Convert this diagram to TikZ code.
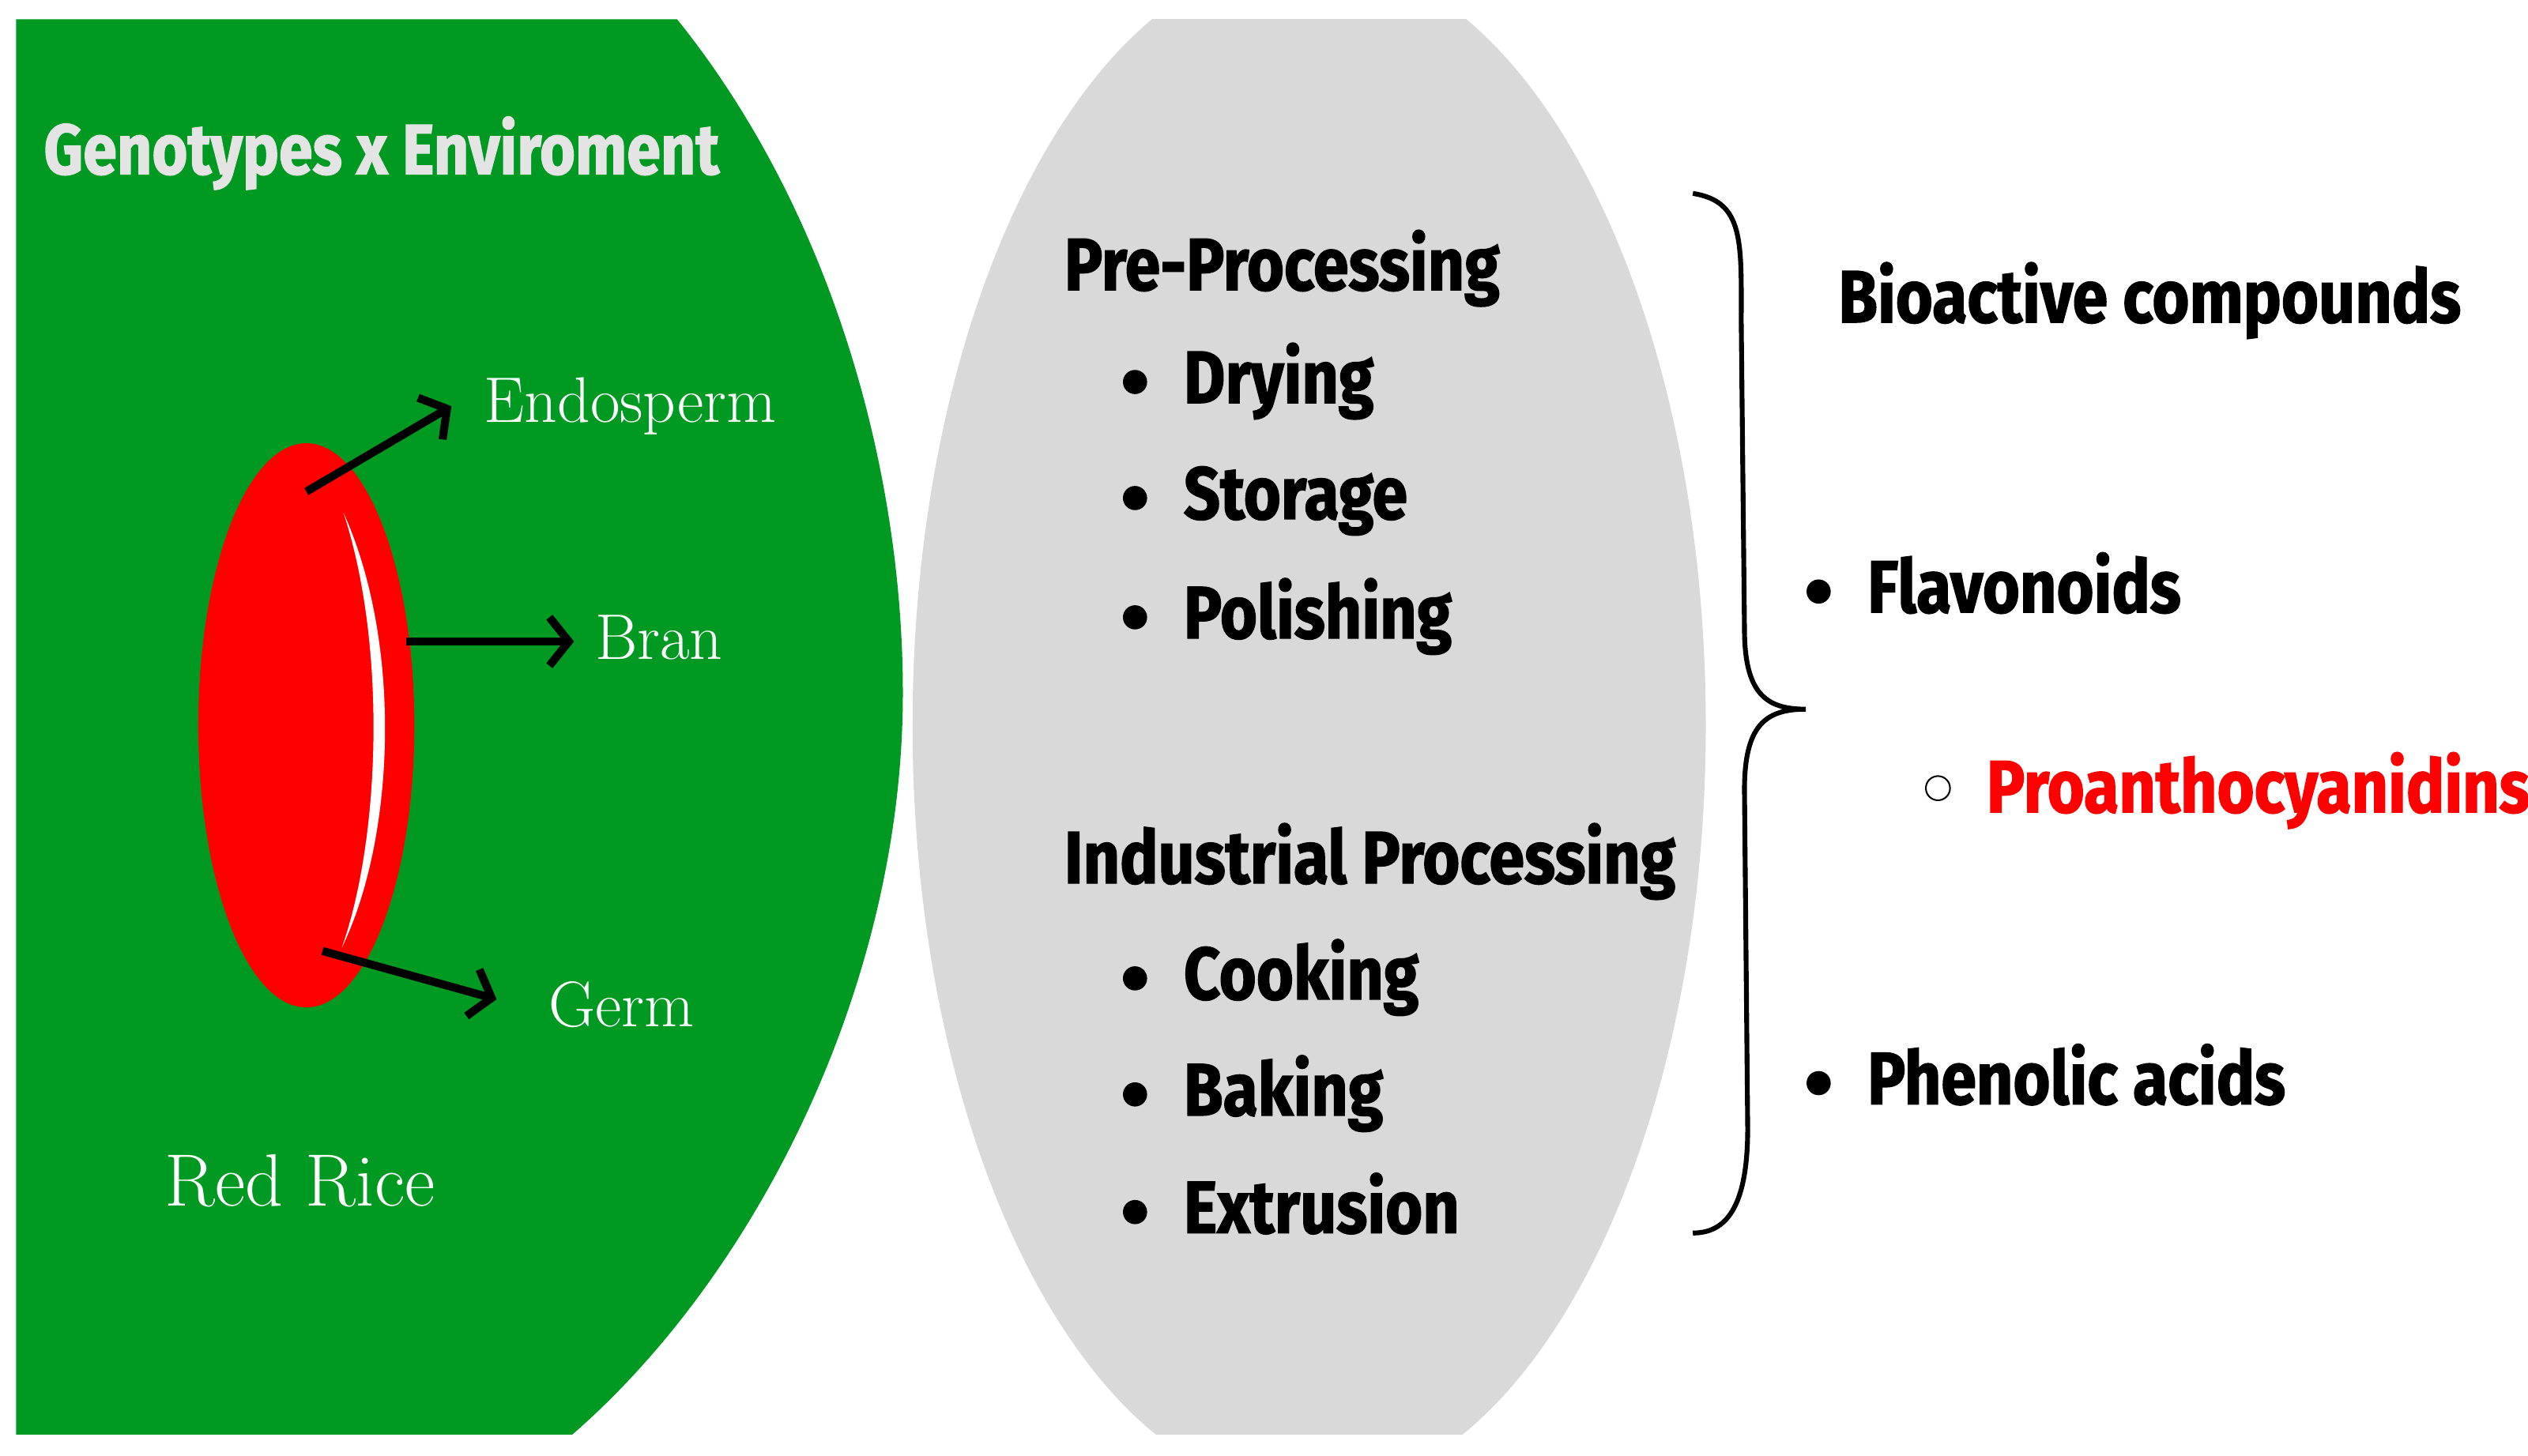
\documentclass[tikz,border=0pt]{standalone}
\usepackage{fontspec}
\newfontfamily\cond{Fira Sans}[FakeStretch=0.86,FakeBold=1.5]
\usetikzlibrary{arrows.meta}
\definecolor{grn}{RGB}{0,154,34}
\definecolor{gry}{RGB}{217,217,217}
\definecolor{rrd}{RGB}{255,0,0}
\tikzset{
 hd/.style={anchor=base west,inner sep=0,font=\cond\bfseries\fontsize{46}{50}\selectfont},
 it/.style={anchor=base west,inner sep=0,font=\cond\bfseries\fontsize{46}{50}\selectfont},
 sf/.style={anchor=base west,inner sep=0,text=white,font=\fontsize{40}{44}\selectfont},
 arr/.style={line width=5pt,-{Straight Barb[length=12pt,width=30pt]}},
 dot/.style={circle,fill=black,inner sep=0,minimum size=15pt}
}
\begin{document}
\begin{tikzpicture}[x=1pt,y=-1pt]
\useasboundingbox (0,0) rectangle (1568,903);
\fill[white] (0,0) rectangle (1568,903);
\begin{scope}
\clip (10,12) rectangle (1568,890);
\fill[grn] (10,12) -- (420,12) .. controls (515,130) and (560,290) .. (560,430) .. controls (560,610) and (470,790) .. (355,890) -- (10,890) -- cycle;
\fill[gry] (812,450) ellipse[x radius=246,y radius=477];
\end{scope}
% red rice
\fill[rrd] (190,450) ellipse[x radius=67,y radius=175];
\fill[white] (213,318) .. controls (250,400) and (245,520) .. (212,588) .. controls (236,520) and (240,400) .. cycle;
\node[anchor=base west,inner sep=0,text=gry!70!white,font=\cond\bfseries\fontsize{44}{50}\selectfont] (ge) at (27,108) {Genotypes x Enviroment};
\node[sf] (endo) at (300,262) {Endosperm};
\node[sf] (bran) at (369,409) {Bran};
\node[sf] (germ) at (340,637) {Germ};
\node[sf,font=\fontsize{46}{50}\selectfont] (rr) at (102,748) {Red Rice};
\coordinate (a1) at (190,305); \coordinate (a2) at (252,398); \coordinate (a3) at (200,590);
\coordinate (b1) at (280,252); \coordinate (b2) at (356,398); \coordinate (b3) at (308,620);
\draw[arr] (a1) -- (b1);
\draw[arr] (a2) -- (b2);
\draw[arr] (a3) -- (b3);
% middle
\node[hd] (pre) at (660,180) {Pre-Processing};
\foreach \t/\y [count=\i] in {Drying/250,Storage/322,Polishing/396}{
 \node[dot] (d\i) at (704,\y-13) {};
 \node[it] (p\i) at (734,\y) {\t};}
\node[hd] (ind) at (660,548) {Industrial Processing};
\foreach \t/\y [count=\i] in {Cooking/620,Baking/692,Extrusion/765}{
 \node[dot] (e\i) at (704,\y-13) {};
 \node[it] (q\i) at (734,\y) {\t};}
% brace
\draw[line width=3pt] (1050,120) .. controls (1082,125) and (1080,150) .. (1080,200) -- (1082,390) .. controls (1082,430) and (1095,440) .. (1120,440) .. controls (1095,440) and (1082,450) .. (1082,490) -- (1084,700) .. controls (1084,750) and (1070,765) .. (1050,765);
\node[hd] (bio) at (1140,200) {Bioactive compounds};
\node[dot] (f0) at (1128,367) {};
\node[it] (fl) at (1158,380) {Flavonoids};
\node[circle,draw=black,line width=1pt,inner sep=0,minimum size=15pt] (c0) at (1202,489) {};
\node[it,text=rrd] (pr) at (1232,504) {Proanthocyanidins};
\node[dot] (h0) at (1128,672) {};
\node[it] (ph) at (1158,685) {Phenolic acids};
\end{tikzpicture}
\end{document}
